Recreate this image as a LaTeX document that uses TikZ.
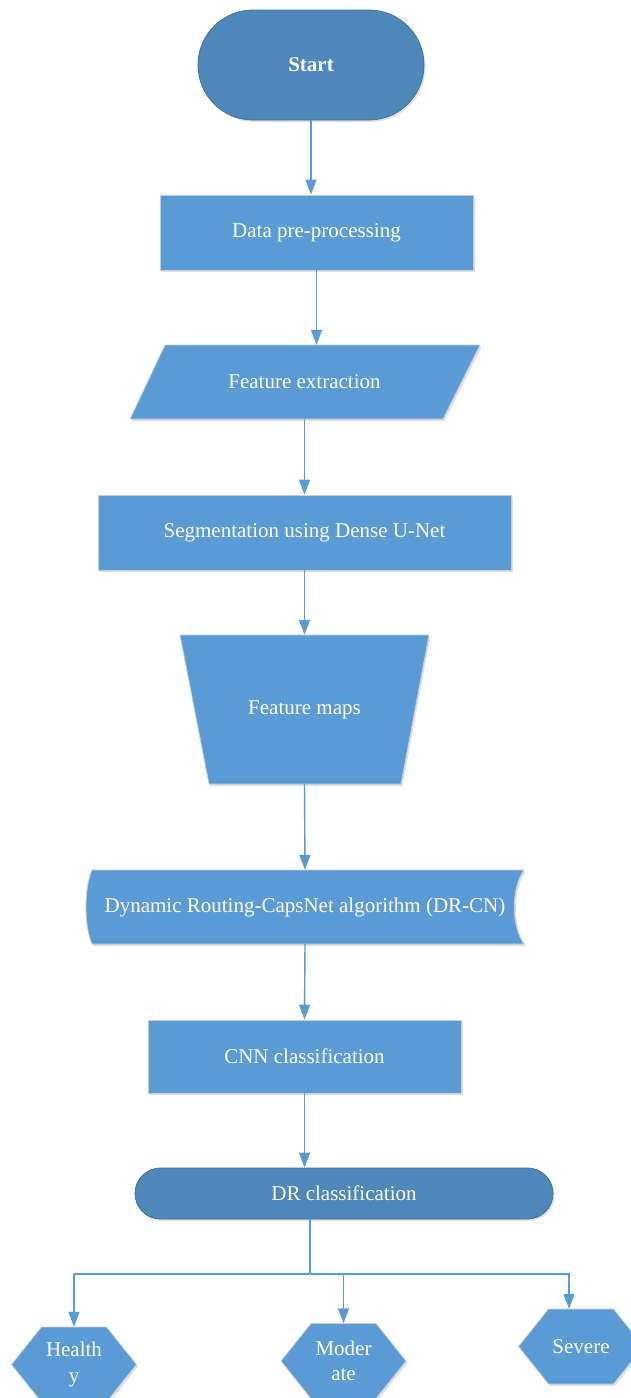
\documentclass[tikz,border=0pt]{standalone}
\usepackage{fontspec}
\setmainfont{Liberation Serif}
\usetikzlibrary{arrows.meta,shadows}
\definecolor{boxblue}{HTML}{5B9BD5}
\definecolor{termblue}{HTML}{4E87BA}
\definecolor{termedge}{HTML}{41719C}
\definecolor{boxedge}{HTML}{C5CFD9}
% flat-topped hexagon: centre x, centre y
\newcommand\hexoutline[2]{({#1-62.5},#2) -- ({#1-32.5},{#2-37.5}) -- ({#1+32.5},{#2-37.5})
  -- ({#1+62.5},#2) -- ({#1+32.5},{#2+37.5}) -- ({#1-32.5},{#2+37.5}) -- cycle}
\begin{document}
\begin{tikzpicture}[x=1pt,y=-1pt,
  every node/.style={font=\fontsize{21}{27}\selectfont, text=white, align=center, inner sep=0pt},
  softshadow/.style={drop shadow={shadow xshift=1.5pt, shadow yshift=-2pt, opacity=0.2, fill=black!60}},
  terminal/.style={draw=termedge, line width=0.8pt, fill=termblue, rounded corners=#1, softshadow},
  procbox/.style={draw=boxedge, line width=0.8pt, fill=boxblue, softshadow},
  shapefill/.style={draw=boxedge, line width=0.8pt, fill=boxblue, softshadow},
  flow/.style={draw=boxblue, line width=1.4pt, -{Triangle[width=11pt,length=15pt]}},
  link/.style={draw=boxblue, line width=1.4pt}
]
\useasboundingbox (0,0) rectangle (630,1398);

% outlines of the non-rectangular steps
\path[shapefill] (165,345) -- (480,345) -- (443,419) -- (130,419) -- cycle;
\path[shapefill] (180,635) -- (429,635) -- (401,784) -- (209,784) -- cycle;
\path[shapefill] (92,870) -- (524,870) .. controls (511,888) and (511,926) .. (524,944)
  -- (92,944) .. controls (84,926) and (84,888) .. (92,870) -- cycle;
\path[shapefill] \hexoutline{74}{1364.5};
\path[shapefill] \hexoutline{343.5}{1361};
\path[shapefill] \hexoutline{581}{1346.5};

% steps
\node[terminal=55pt, minimum width=226pt, minimum height=110pt,
  font=\fontsize{21}{27}\selectfont\bfseries] (start) at (311,65) {Start};
\node[procbox, minimum width=313pt, minimum height=75pt] (prep) at (316.5,232.5) {Data pre-processing};
\node[minimum width=280pt, minimum height=74pt] (feat) at (304.5,382) {Feature extraction};
\node[procbox, minimum width=413pt, minimum height=75pt] (seg) at (304.5,532.5) {Segmentation using Dense U-Net};
\node[minimum width=190pt, minimum height=149pt] (fmap) at (304.5,709.5) {Feature maps};
\node[minimum width=410pt, minimum height=74pt] (drcn) at (305,907) {Dynamic Routing-CapsNet algorithm (DR-CN)};
\node[procbox, minimum width=313pt, minimum height=73pt] (cnn) at (304.5,1056.5) {CNN classification};
\node[terminal=25.5pt, minimum width=418pt, minimum height=51pt] (drc) at (344,1193.5) {DR classification};

% outcome classes
\node[minimum width=110pt, minimum height=75pt] (healthy) at (74,1364.5) {Health\\[-1pt]y};
\node[minimum width=110pt, minimum height=75pt] (moderate) at (343.5,1361) {Moder\\[-2pt]ate};
\node[minimum width=110pt, minimum height=75pt] (severe) at (581,1346.5) {Severe};

% connectors
\draw[flow] (start.south) -- (start.south |- prep.north);
\draw[flow] (prep.south) -- (prep.south |- feat.north);
\draw[flow] (feat.south) -- (seg.north);
\draw[flow] (seg.south) -- (fmap.north);
\draw[flow] (fmap.south) -- (drcn.north);
\draw[flow] (drcn.south) -- (cnn.north);
\draw[flow] (cnn.south) -- (cnn.south |- drc.north);

\coordinate (split) at (310,1274);
\draw[link] (drc.south -| split) -- (split);
\draw[flow] (split) -| (healthy.north);
\draw[flow] (split) -| (moderate.north);
\draw[flow] (split) -| ([xshift=-12pt]severe.north);
\end{tikzpicture}
\end{document}
